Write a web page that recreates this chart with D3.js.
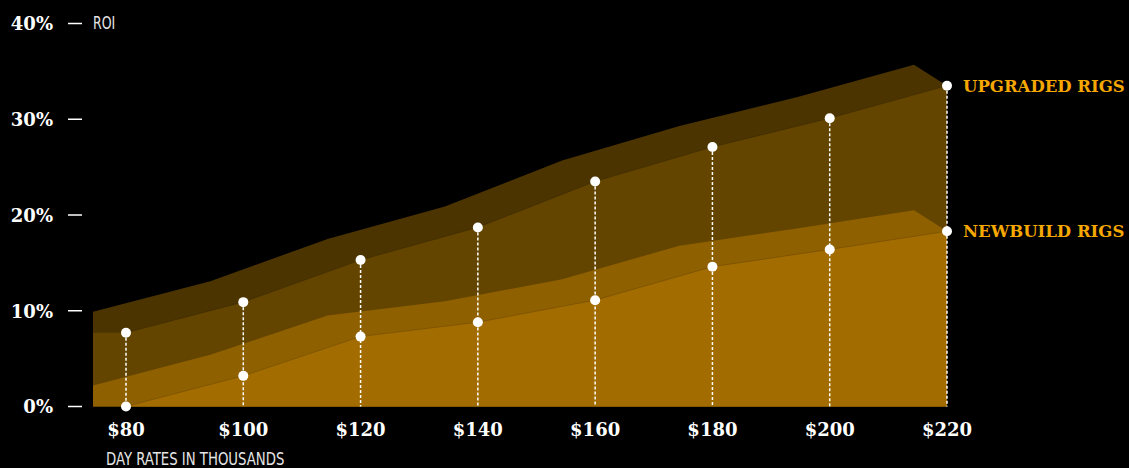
<!DOCTYPE html>
<html>
<head>
<meta charset="utf-8">
<script src="https://cdn.jsdelivr.net/npm/d3@7"></script>
<style>
  html, body { margin: 0; padding: 0; background: #000; }
  svg { display: block; }
</style>
</head>
<body>
<svg id="chart" width="1129" height="468"></svg>
<script>
// day rates, thousands of dollars
var dayRates = [80, 100, 120, 140, 160, 180, 200, 220];
// ROI in percent
var upgraded = [7.7, 10.9, 15.3, 18.7, 23.5, 27.1, 30.1, 33.5];
var newbuild = [0, 3.2, 7.3, 8.8, 11.1, 14.6, 16.4, 18.3];
var yTicks = [0, 10, 20, 30, 40];
var seriesNames = ['UPGRADED RIGS', 'NEWBUILD RIGS'];

var width = 1129;
var height = 468;
// fake depth of the areas
var depthX = -33;
var depthY = -21;
// squeeze for the condensed captions
var narrow = 0.82;

var svg = d3.select('#chart');

var x = d3.scaleLinear().domain([80, 220]).range([126, 947]);
var y = d3.scaleLinear().domain([0, 40]).range([406.5, 23.5]);
var left = x(80) + depthX;

var series = [
  { name: seriesNames[0], values: upgraded, top: '#4b3400', front: '#644500' },
  { name: seriesNames[1], values: newbuild, top: '#8e6000', front: '#a26c00' }
];

var line = d3.line();

series.forEach(function (s) {
  var pts = dayRates.map(function (d, i) { return [x(d), y(s.values[i])]; });
  var last = pts[pts.length - 1];

  // top face: the series pushed back, closed down to the baseline
  var back = pts.map(function (p) { return [p[0] + depthX, p[1] + depthY]; });
  back.push(last, [last[0], y(0)], [left, y(0)]);
  svg.append('path')
    .attr('d', line(back) + 'Z')
    .attr('fill', s.top);

  // front face, held flat to the left edge
  var front = [[left, pts[0][1]]].concat(pts, [[last[0], y(0)], [left, y(0)]]);
  svg.append('path')
    .attr('d', line(front) + 'Z')
    .attr('fill', s.front);

  svg.append('path')
    .attr('d', line(pts))
    .attr('fill', 'none')
    .attr('stroke', '#000')
    .attr('stroke-opacity', 0.15)
    .attr('stroke-width', 1);
});

// dotted drop lines
svg.selectAll('.drop')
  .data(dayRates).enter().append('line')
  .classed('drop', true)
  .attr('x1', function (d) { return x(d); })
  .attr('x2', function (d) { return x(d); })
  .attr('y1', function (d, i) { return y(upgraded[i]); })
  .attr('y2', y(0))
  .attr('stroke', '#fff')
  .attr('stroke-width', 1.5)
  .attr('stroke-dasharray', '3,2');

series.forEach(function (s) {
  svg.selectAll(null)
    .data(dayRates).enter().append('circle')
    .attr('cx', function (d) { return x(d); })
    .attr('cy', function (d, i) { return y(s.values[i]); })
    .attr('r', 5)
    .attr('fill', '#fff');

  svg.append('text')
    .attr('x', 963)
    .attr('y', y(s.values[s.values.length - 1]))
    .attr('dy', '0.36em')
    .attr('fill', '#f6a800')
    .attr('font-family', '"DejaVu Serif", serif')
    .attr('font-weight', 'bold')
    .attr('font-size', 16.5)
    .text(s.name);
});

// y axis
var yAxis = svg.append('g');
yAxis.selectAll('line')
  .data(yTicks).enter().append('line')
  .attr('x1', 68).attr('x2', 82)
  .attr('y1', function (d) { return y(d); })
  .attr('y2', function (d) { return y(d); })
  .attr('stroke', '#fff')
  .attr('stroke-width', 1.5);
yAxis.selectAll('text')
  .data(yTicks).enter().append('text')
  .attr('x', 53)
  .attr('y', function (d) { return y(d); })
  .attr('dy', '0.38em')
  .attr('text-anchor', 'end')
  .attr('fill', '#fff')
  .attr('font-family', '"DejaVu Serif", serif')
  .attr('font-weight', 'bold')
  .attr('font-size', 18)
  .text(function (d) { return d + '%'; });

svg.append('text')
  .attr('transform', 'translate(93,29) scale(' + narrow + ',1)')
  .attr('fill', '#e6e6e6')
  .attr('font-family', '"Liberation Sans Narrow", "DejaVu Sans Condensed", sans-serif')
  .attr('font-size', 17)
  .text('ROI');

// x axis
svg.selectAll('.xlabel')
  .data(dayRates).enter().append('text')
  .classed('xlabel', true)
  .attr('x', function (d) { return x(d); })
  .attr('y', 436)
  .attr('text-anchor', 'middle')
  .attr('fill', '#fff')
  .attr('font-family', '"DejaVu Serif", serif')
  .attr('font-weight', 'bold')
  .attr('font-size', 18)
  .text(function (d) { return '$' + d; });

svg.append('text')
  .attr('transform', 'translate(106,465) scale(' + narrow + ',1)')
  .attr('fill', '#e6e6e6')
  .attr('font-family', '"Liberation Sans Narrow", "DejaVu Sans Condensed", sans-serif')
  .attr('font-size', 18)
  .text('DAY RATES IN THOUSANDS');
</script>
</body>
</html>
